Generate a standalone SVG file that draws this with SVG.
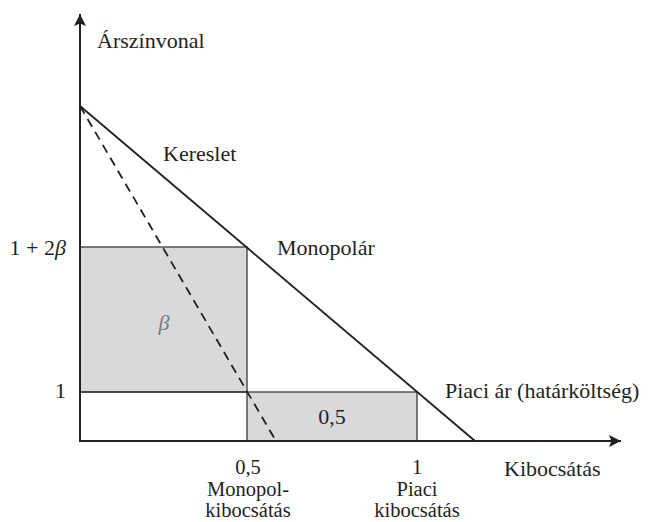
<svg xmlns="http://www.w3.org/2000/svg" width="651" height="522" viewBox="0 0 651 522">
<style>
text{font-family:"Liberation Serif","DejaVu Serif",serif;font-size:22px;fill:#231f20}
.mid{text-anchor:middle}
.end{text-anchor:end}
.sm{font-size:20.5px}
.box{fill:#d9d9db;stroke:#3a3a3a;stroke-width:1.3}
.ax{stroke:#231f20;stroke-width:2;fill:none}
.ln{stroke:#231f20;stroke-width:1.8;fill:none}
.dash{stroke:#231f20;stroke-width:1.8;fill:none;stroke-dasharray:9,6}
.thin{stroke:#3a3a3a;stroke-width:1.3;fill:none}
</style>
<defs>
<marker id="ah" viewBox="0 0 10 10" refX="10" refY="5" markerWidth="12" markerHeight="12" markerUnits="userSpaceOnUse" orient="auto">
<path d="M0,0 L10,5 L0,10 L2,5 Z" fill="#231f20"/>
</marker>
</defs>
<g id="areas">
<rect class="box" x="80" y="247" width="167" height="145"/>
<rect class="box" x="247" y="392" width="170" height="49"/>
<line class="thin" x1="80" y1="392" x2="247" y2="392"/>
</g>
<g id="connectors">
<line class="ax" x1="80" y1="441" x2="80" y2="14" marker-end="url(#ah)"/>
<line class="ax" x1="79" y1="441" x2="621" y2="441" marker-end="url(#ah)"/>
<line class="ln" x1="80" y1="106" x2="475" y2="441"/>
<line class="dash" x1="80" y1="106" x2="276" y2="441"/>
</g>
<g id="labels">
<text x="97" y="48">Árszínvonal</text>
<text x="163" y="161">Kereslet</text>
<text x="277" y="255">Monopolár</text>
<text x="445" y="398">Piaci ár (határköltség)</text>
<text x="504" y="476">Kibocsátás</text>
<text x="66" y="255" class="end">1 + 2<tspan font-style="italic">β</tspan></text>
<text x="66" y="398" class="end">1</text>
<text x="164" y="330" class="mid" font-style="italic" style="fill:#7a7a7a">β</text>
<text x="332" y="424" class="mid">0,5</text>
<text x="248" y="474" class="mid sm">0,5</text>
<text x="248" y="495.5" class="mid sm">Monopol-</text>
<text x="248" y="517" class="mid sm">kibocsátás</text>
<text x="417" y="474" class="mid sm">1</text>
<text x="417" y="495.5" class="mid sm">Piaci</text>
<text x="417" y="517" class="mid sm">kibocsátás</text>
</g>
</svg>
